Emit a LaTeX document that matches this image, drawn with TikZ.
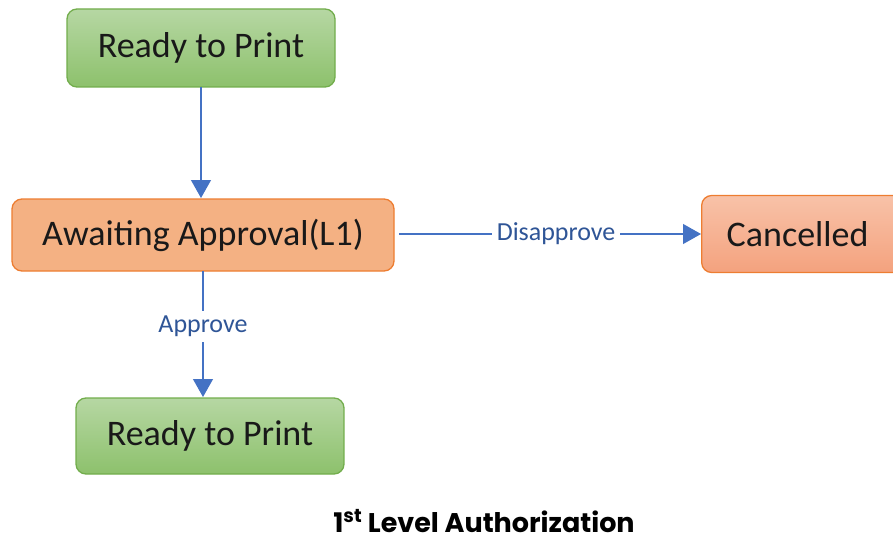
\documentclass[tikz,border=0pt]{standalone}
\usepackage{fontspec}
\setmainfont{Carlito}
\newfontfamily\titlefont{Poppins}
\usetikzlibrary{arrows.meta}
\definecolor{greenTop}{HTML}{B6D7A3}
\definecolor{greenBot}{HTML}{8DC16C}
\definecolor{greenLine}{HTML}{72AD4C}
\definecolor{orangeFill}{HTML}{F4B183}
\definecolor{orangeLine}{HTML}{ED7D31}
\definecolor{redTop}{HTML}{F8C2A8}
\definecolor{redBot}{HTML}{F4A27E}
\definecolor{arrowBlue}{HTML}{4472C4}
\definecolor{labelBlue}{HTML}{2F5597}
\tikzset{
  statebox/.style={rounded corners=10pt, line width=1.3pt, font=\fontsize{36}{40}\selectfont, text=black!90},
  greenbox/.style={statebox, draw=greenLine, top color=greenTop, bottom color=greenBot},
  orangebox/.style={statebox, draw=orangeLine, fill=orangeFill},
  redbox/.style={statebox, draw=orangeLine, top color=redTop, bottom color=redBot},
  flow/.style={draw=arrowBlue, line width=1.2pt, -{Triangle[length=18pt,width=20pt]}},
  edgelabel/.style={fill=white, text=labelBlue, font=\fontsize{26}{28}\selectfont, inner sep=5pt}
}
\begin{document}
\begin{tikzpicture}[x=1pt,y=-1pt]
  \useasboundingbox (0,0) rectangle (893,540);
  \begin{scope}
    \clip (0,0) rectangle (893,540);
    \node[greenbox, minimum width=268pt, minimum height=78pt] (print1) at (201,48) {Ready to Print};
    \node[orangebox, minimum width=382pt, minimum height=72pt] (await) at (203,235) {Awaiting Approval(L1)};
    \node[redbox, minimum width=204pt, minimum height=77pt, anchor=west] (cancel) at (701,234) {\hspace*{-12pt}Cancelled};
    \node[greenbox, minimum width=268pt, minimum height=76pt] (print2) at (210,436) {Ready to Print};
  \end{scope}
  \coordinate (t1) at (201,87);
  \coordinate (t2) at (201,198);
  \draw[flow] (t1) -- (t2);
  \coordinate (a1) at (203,271);
  \coordinate (a2) at (203,397);
  \draw[flow] (a1) -- node[edgelabel, pos=0.44] (approve) {Approve} (a2);
  \coordinate (d1) at (399,234);
  \draw[flow] (d1) -- node[edgelabel, pos=0.52] (disapprove) {Disapprove} (cancel.west);
  \node[inner sep=0pt, anchor=base, font=\titlefont\bfseries\fontsize{27}{30}\selectfont] (title) at (484,532) {1\textsuperscript{st} Level Authorization};
\end{tikzpicture}
\end{document}
